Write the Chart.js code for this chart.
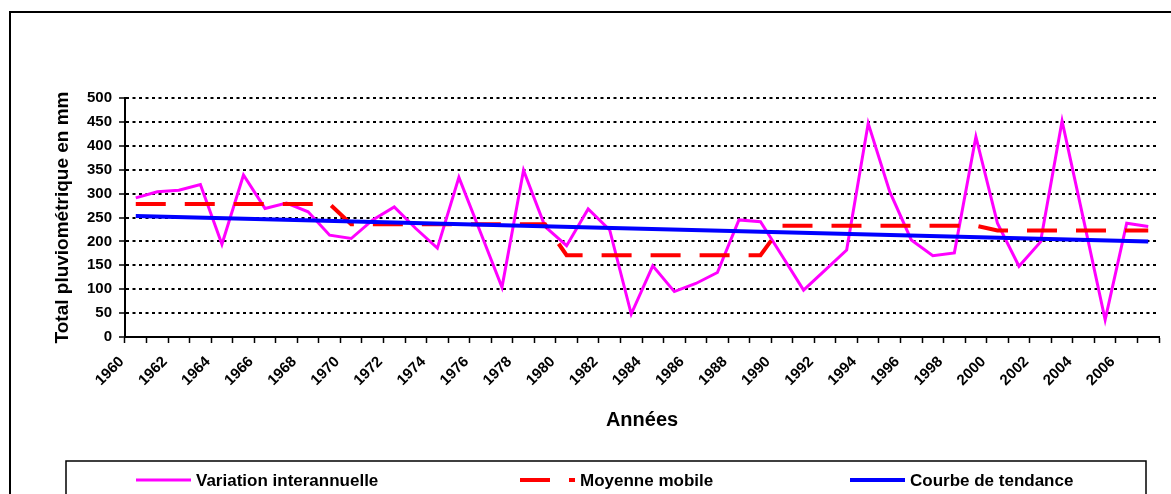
<!DOCTYPE html>
<html>
<head>
<meta charset="utf-8">
<script src="https://cdn.jsdelivr.net/npm/chart.js@4"></script>
<style>
  html, body { margin: 0; padding: 0; background: #fff; }
  canvas { display: block; }
</style>
</head>
<body>
<canvas id="pluie" width="1171" height="494"></canvas>
<script>
"use strict";

// Années (axe des x)
const annees = ['1960', '1961', '1962', '1963', '1964', '1965', '1966', '1967', '1968', '1969',
                '1970', '1971', '1972', '1973', '1974', '1975', '1976', '1977', '1978', '1979',
                '1980', '1981', '1982', '1983', '1984', '1985', '1986', '1987', '1988', '1989',
                '1990', '1991', '1992', '1993', '1994', '1995', '1996', '1997', '1998', '1999',
                '2000', '2001', '2002', '2003', '2004', '2005', '2006', '2007'];

// Total pluviométrique annuel (mm)
const pluie = [291, 304, 307, 319, 194, 339, 269, 280, 262, 213,
               206, 245, 272, 227, 186, 334, 219, 104, 349, 231,
               191, 268, 224, 48, 149, 95, 112, 135, 245, 241,
               170, 98, 140, 182, 447, 304, 203, 170, 176, 419,
               238, 148, 199, 452, 245, 36, 238, 231];

// Moyenne mobile (par décennie)
const moyenneMobile = [278, 278, 278, 278, 278, 278, 278, 278, 278, 278,
                       236, 236, 236, 236, 236, 236, 236, 236, 236, 236,
                       171, 171, 171, 171, 171, 171, 171, 171, 171, 171,
                       233, 233, 233, 233, 233, 233, 233, 233, 233, 233,
                       223, 223, 223, 223, 223, 223, 223, 223];

// Courbe de tendance : valeurs aux deux extrémités
const tendanceDebut = 253;
const tendanceFin = 200;

const yTicks = { min: 0, max: 500, pas: 50 };

const police = '"Liberation Sans", Arial, sans-serif';

// cadre extérieur + fond blanc
const cadre = {
    id: 'cadre',
    beforeDraw(chart) {
        const ctx = chart.ctx;
        ctx.save();
        ctx.fillStyle = '#fff';
        ctx.fillRect(0, 0, chart.width, chart.height);
        ctx.strokeStyle = '#000';
        ctx.lineWidth = 2;
        ctx.strokeRect(10, 12, chart.width + 20, chart.height + 20);
        ctx.restore();
    }
};

// légende encadrée en bas, comme dans Excel
const legende = {
    id: 'legende',
    afterDraw(chart) {
        const ctx = chart.ctx;
        const debuts = [136, 520, 850];
        const y = 480;
        ctx.save();
        ctx.strokeStyle = '#000';
        ctx.lineWidth = 1.5;
        ctx.strokeRect(66, 461, 1080, 60);
        ctx.font = 'bold 17px ' + police;
        ctx.textBaseline = 'middle';
        chart.data.datasets.forEach((ds, i) => {
            const x = debuts[i];
            ctx.beginPath();
            ctx.setLineDash(ds.borderDash || []);
            ctx.strokeStyle = ds.borderColor;
            ctx.lineWidth = ds.borderWidth;
            ctx.moveTo(x, y);
            ctx.lineTo(x + 55, y);
            ctx.stroke();
            ctx.setLineDash([]);
            ctx.fillStyle = '#000';
            ctx.fillText(ds.label, x + 60, y + 1);
        });
        ctx.restore();
    }
};

new Chart(document.getElementById('pluie'), {
    type: 'line',
    data: {
        labels: annees,
        datasets: [{
            label: 'Variation interannuelle',
            data: pluie,
            borderColor: '#FF00FF',
            borderWidth: 3,
            pointRadius: 0,
            order: 3
        }, {
            label: 'Moyenne mobile',
            data: moyenneMobile,
            borderColor: '#FF0000',
            borderWidth: 4,
            borderDash: [30, 19],
            pointRadius: 0,
            order: 2
        }, {
            label: 'Courbe de tendance',
            data: [{ x: annees[0], y: tendanceDebut }, { x: annees[annees.length - 1], y: tendanceFin }],
            borderColor: '#0000FF',
            borderWidth: 4,
            pointRadius: 0,
            order: 1
        }]
    },
    options: {
        responsive: false,
        animation: false,
        devicePixelRatio: 1,
        layout: { padding: { left: 48, top: 98, right: 3, bottom: 60 } },
        plugins: {
            legend: { display: false },
            tooltip: { enabled: false }
        },
        scales: {
            x: {
                type: 'category',
                offset: true,
                grid: {
                    offset: true,
                    drawOnChartArea: false,
                    tickLength: 6,
                    tickColor: '#000',
                    tickWidth: 1.5
                },
                border: { color: '#000', width: 2 },
                ticks: {
                    autoSkip: false,
                    minRotation: 45,
                    maxRotation: 45,
                    labelOffset: -14,
                    padding: 10,
                    color: '#000',
                    font: { family: police, size: 15, weight: 'bold' },
                    callback: function (val, i) {
                        return i % 2 === 0 ? this.getLabelForValue(val) : '';
                    }
                },
                title: {
                    display: true,
                    text: 'Années',
                    color: '#000',
                    font: { family: police, size: 20, weight: 'bold' },
                    padding: { top: 0, bottom: 2 }
                },
                afterFit: s => { s.height = 97; }
            },
            y: {
                min: yTicks.min,
                max: yTicks.max,
                grid: {
                    color: '#000',
                    lineWidth: 2,
                    tickLength: 6,
                    tickColor: '#000',
                    tickWidth: 1.5
                },
                border: { color: '#000', width: 2, dash: [3, 3.5] },
                ticks: {
                    stepSize: yTicks.pas,
                    padding: 7,
                    color: '#000',
                    font: { family: police, size: 15, weight: 'bold' }
                },
                title: {
                    display: true,
                    text: 'Total pluviométrique en mm',
                    color: '#000',
                    font: { family: police, size: 19, weight: 'bold' },
                    padding: { top: 3, bottom: 0 }
                },
                afterFit: s => { s.width = 77; }
            }
        }
    },
    plugins: [cadre, legende]
});
</script>
</body>
</html>
